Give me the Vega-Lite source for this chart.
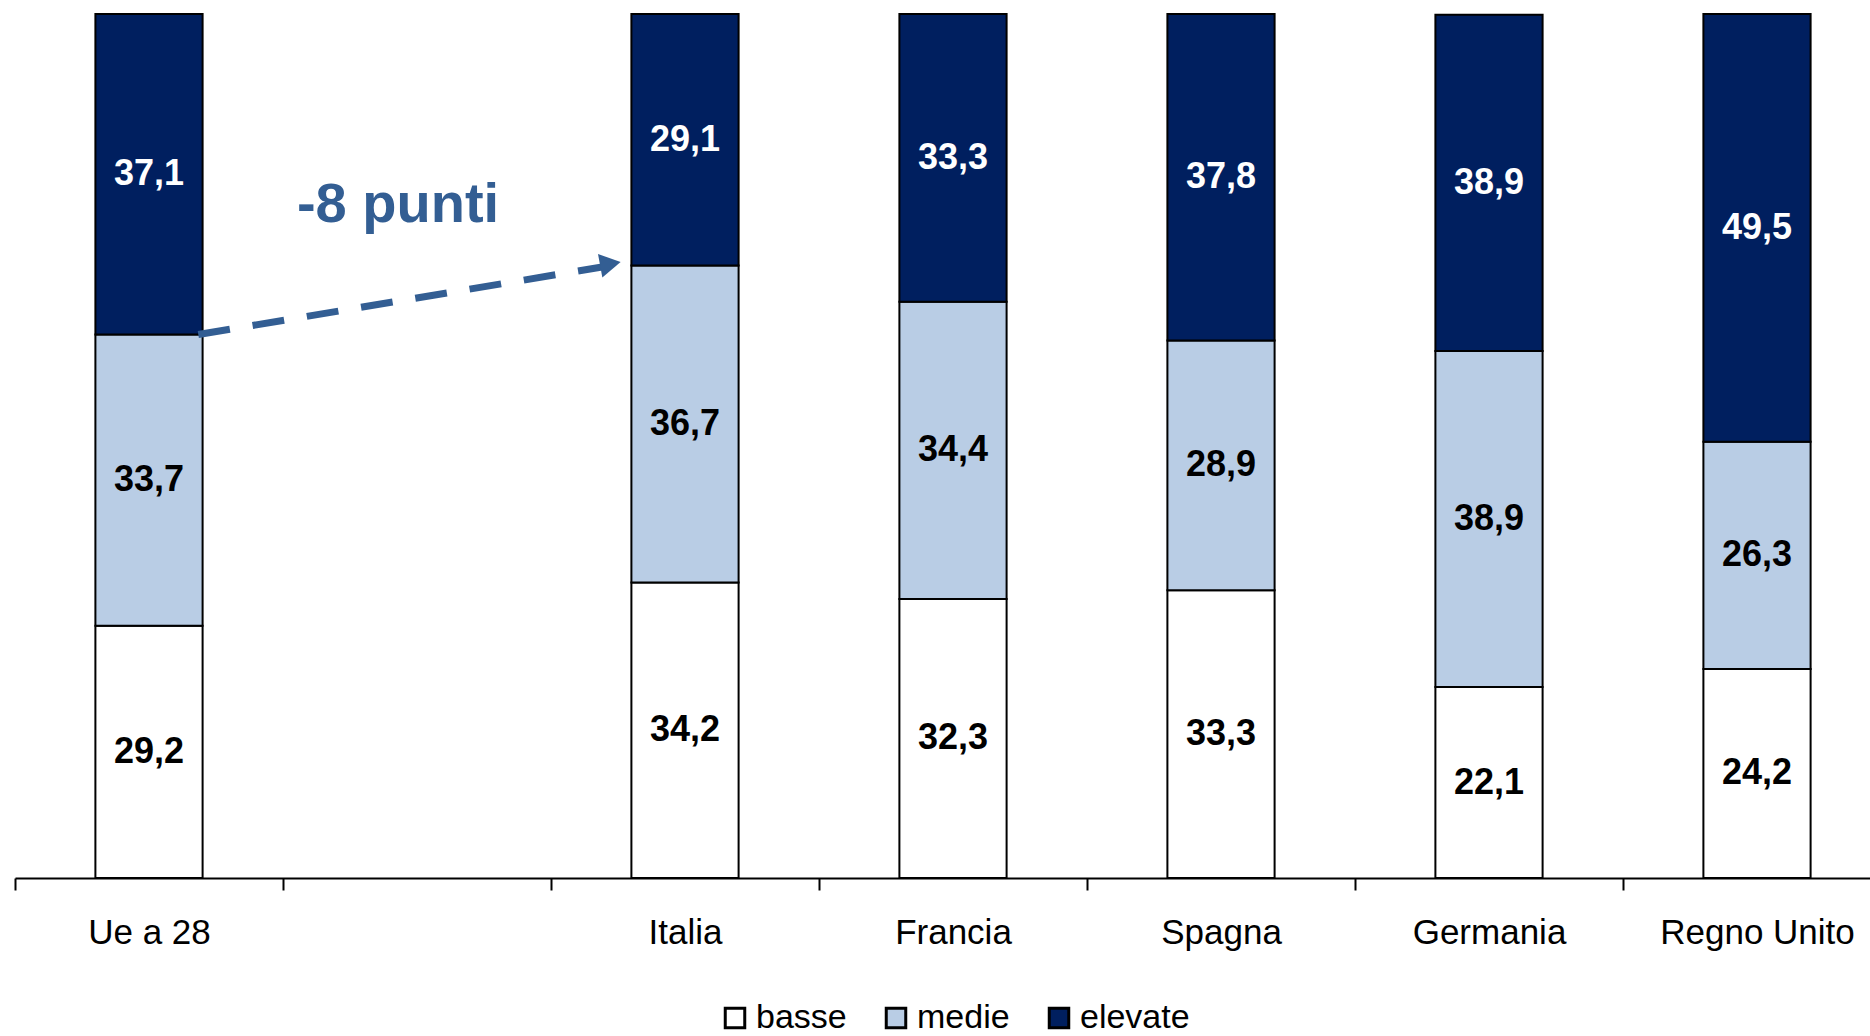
{
  "$schema": "https://vega.github.io/schema/vega-lite/v6.json",
  "width": 1855,
  "height": 864,
  "autosize": {"type": "none"},
  "padding": {"left": 15, "top": 14, "right": 0, "bottom": 158},
  "background": "white",
  "config": {
    "view": {"stroke": null},
    "font": "Liberation Sans",
    "locale": {"number": {"decimal": ",", "thousands": ".", "grouping": [3], "currency": ["€", ""]}}
  },
  "datasets": {
    "quote": [
      {"paese": "Ue a 28", "livello": "basse", "grado": 1, "valore": 29.2},
      {"paese": "Ue a 28", "livello": "medie", "grado": 2, "valore": 33.7},
      {"paese": "Ue a 28", "livello": "elevate", "grado": 3, "valore": 37.1},
      {"paese": "Italia", "livello": "basse", "grado": 1, "valore": 34.2},
      {"paese": "Italia", "livello": "medie", "grado": 2, "valore": 36.7},
      {"paese": "Italia", "livello": "elevate", "grado": 3, "valore": 29.1},
      {"paese": "Francia", "livello": "basse", "grado": 1, "valore": 32.3},
      {"paese": "Francia", "livello": "medie", "grado": 2, "valore": 34.4},
      {"paese": "Francia", "livello": "elevate", "grado": 3, "valore": 33.3},
      {"paese": "Spagna", "livello": "basse", "grado": 1, "valore": 33.3},
      {"paese": "Spagna", "livello": "medie", "grado": 2, "valore": 28.9},
      {"paese": "Spagna", "livello": "elevate", "grado": 3, "valore": 37.8},
      {"paese": "Germania", "livello": "basse", "grado": 1, "valore": 22.1},
      {"paese": "Germania", "livello": "medie", "grado": 2, "valore": 38.9},
      {"paese": "Germania", "livello": "elevate", "grado": 3, "valore": 38.9},
      {"paese": "Regno Unito", "livello": "basse", "grado": 1, "valore": 24.2},
      {"paese": "Regno Unito", "livello": "medie", "grado": 2, "valore": 26.3},
      {"paese": "Regno Unito", "livello": "elevate", "grado": 3, "valore": 49.5}
    ],
    "freccia": [{"da": "Ue a 28", "a": "Italia", "livello_da": 62.9, "livello_a": 70.9}],
    "nota": [{"paese": " ", "posizione": 75.9, "testo": "-8 punti"}]
  },
  "layer": [
    {
      "data": {"name": "quote"},
      "mark": {"type": "bar", "stroke": "black", "strokeWidth": 2},
      "encoding": {
        "x": {
          "field": "paese", "type": "nominal", "title": null,
          "scale": {"domain": ["Ue a 28", " ", "Italia", "Francia", "Spagna", "Germania", "Regno Unito"], "range": [0, 1876], "paddingInner": 0.6, "paddingOuter": 0.3},
          "axis": {"labelAngle": 0, "labelFontSize": 35, "labelColor": "black", "labelFont": "Liberation Sans", "labelPadding": 25, "labelLimit": 0, "labelOffset": 134, "domainColor": "black", "domainWidth": 2, "tickColor": "black", "tickWidth": 2, "tickSize": 12, "tickOffset": -134, "grid": false}
        },
        "y": {"field": "valore", "type": "quantitative", "stack": "zero", "scale": {"domain": [0, 100], "nice": false}, "axis": null},
        "order": {"field": "grado", "type": "quantitative", "sort": "ascending"},
        "fill": {
          "field": "livello", "type": "nominal", "sort": ["basse", "medie", "elevate"],
          "scale": {"domain": ["basse", "medie", "elevate"], "range": ["#FFFFFF", "#B9CDE5", "#001F5F"]},
          "legend": {"title": null, "orient": "none", "legendX": 703, "legendY": 987, "direction": "horizontal", "columns": 3, "symbolType": "square", "symbolSize": 380, "symbolStrokeColor": "black", "symbolStrokeWidth": 3, "labelFontSize": 34, "labelFont": "Liberation Sans", "labelColor": "black", "labelOffset": 4, "columnPadding": 32}
        }
      }
    },
    {
      "data": {"name": "quote"},
      "mark": {"type": "text", "fontWeight": "bold", "fontSize": 36, "baseline": "middle"},
      "encoding": {
        "x": {"field": "paese", "type": "nominal", "title": null},
        "y": {"field": "valore", "type": "quantitative", "stack": "zero", "bandPosition": 0.5},
        "order": {"field": "grado", "type": "quantitative", "sort": "ascending"},
        "color": {
          "field": "livello", "type": "nominal", "sort": ["basse", "medie", "elevate"],
          "scale": {"domain": ["basse", "medie", "elevate"], "range": ["#000000", "#000000", "#FFFFFF"]},
          "legend": null
        },
        "text": {"field": "valore", "type": "quantitative", "format": ".1f"}
      }
    },
    {
      "data": {"name": "freccia"},
      "mark": {"type": "rule", "color": "#335E93", "strokeWidth": 7, "strokeDash": [32, 23], "x2Offset": -20},
      "encoding": {
        "x": {"field": "da", "type": "nominal", "bandPosition": 0.96, "title": null},
        "x2": {"field": "a", "bandPosition": 0},
        "y": {"field": "livello_da", "type": "quantitative"},
        "y2": {"field": "livello_a"}
      }
    },
    {
      "data": {"name": "freccia"},
      "mark": {"type": "point", "shape": "triangle-right", "filled": true, "opacity": 1, "color": "#335E93", "size": 576, "angle": 349.5, "xOffset": -21, "yOffset": -1.5},
      "encoding": {
        "x": {"field": "a", "type": "nominal", "bandPosition": 0, "title": null},
        "y": {"field": "livello_a", "type": "quantitative"}
      }
    },
    {
      "data": {"name": "nota"},
      "mark": {"type": "text", "fontWeight": "bold", "fontSize": 56, "color": "#335E93", "dx": -19, "baseline": "alphabetic"},
      "encoding": {
        "x": {"field": "paese", "type": "nominal", "title": null},
        "y": {"field": "posizione", "type": "quantitative"},
        "text": {"field": "testo"}
      }
    }
  ]
}
